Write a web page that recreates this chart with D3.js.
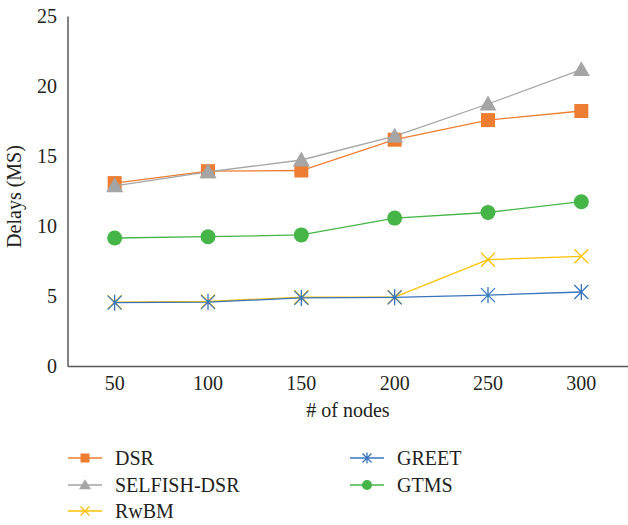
<!DOCTYPE html>
<html>
<head>
<meta charset="utf-8">
<script src="https://cdn.jsdelivr.net/npm/d3@7"></script>
<style>
  body { margin: 0; background: #fff; }
  svg text { font-family: "Liberation Serif", "DejaVu Serif", serif; fill: #231f20; }
</style>
</head>
<body>
<svg id="chart" width="628" height="525"></svg>
<script>
// x categories
var nodes = ['50', '100', '150', '200', '250', '300'];

// series values
var dsr     = [13.1, 13.95, 14.0, 16.2, 17.6, 18.25];
var selfish = [12.9, 13.9, 14.75, 16.45, 18.75, 21.2];
var rwbm    = [4.6, 4.65, 4.95, 4.95, 7.63, 7.87];
var greet   = [4.56, 4.6, 4.9, 4.94, 5.1, 5.32];
var gtms    = [9.18, 9.27, 9.4, 10.6, 11.0, 11.77];

var yTicks = [0, 5, 10, 15, 20, 25];

var series = [
    { name: 'DSR',         values: dsr,     color: '#ED7D31', marker: 'square' },
    { name: 'SELFISH-DSR', values: selfish, color: '#A5A5A5', marker: 'triangle' },
    { name: 'RwBM',        values: rwbm,    color: '#FFC000', marker: 'x' },
    { name: 'GREET',       values: greet,   color: '#3874BC', marker: 'star' },
    { name: 'GTMS',        values: gtms,    color: '#46B548', marker: 'circle' }
];

var svg = d3.select('#chart');

// plot box
var plotLeft = 68, plotRight = 628, plotTop = 16.5, plotBottom = 366.5;
var fontSize = 20;

var x = d3.scaleBand().domain(nodes).range([plotLeft, plotRight]);
var y = d3.scaleLinear().domain([0, 25]).range([plotBottom, plotTop]);

function xPos(i) { return x(nodes[i]) + x.bandwidth() / 2; }

// axes
var xAxis = svg.append('g')
    .attr('transform', 'translate(0,' + plotBottom + ')')
    .call(d3.axisBottom(x).tickSize(0).tickPadding(9));
var yAxis = svg.append('g')
    .attr('transform', 'translate(' + plotLeft + ',0)')
    .call(d3.axisLeft(y).tickValues(yTicks).tickSize(0).tickPadding(11));

[xAxis, yAxis].forEach(function (g) {
    g.select('.domain').attr('stroke', '#58595b').attr('stroke-width', 1.5);
    g.selectAll('text').attr('font-size', fontSize)
        .attr('font-family', '"Liberation Serif", serif').attr('fill', '#231f20');
});
yAxis.select('.domain').attr('d', 'M0,' + plotTop + 'V' + plotBottom);
xAxis.select('.domain').attr('d', 'M' + plotLeft + ',0H' + plotRight);

// axis titles
svg.append('text')
    .attr('x', 348).attr('y', 417)
    .attr('text-anchor', 'middle').attr('font-size', fontSize)
    .text('# of nodes');
svg.append('text')
    .attr('transform', 'translate(21,' + ((plotTop + plotBottom) / 2 + 5) + ') rotate(-90)')
    .attr('text-anchor', 'middle').attr('font-size', fontSize)
    .text('Delays (MS)');

function drawMarker(g, type, cx, cy, color, s) {
    if (type === 'square') {
        g.append('rect').attr('x', cx - s / 2).attr('y', cy - s / 2)
            .attr('width', s).attr('height', s).attr('fill', color);
    } else if (type === 'triangle') {
        var h = s * 0.95;
        g.append('path')
            .attr('d', 'M' + cx + ',' + (cy - h * 0.6) + 'L' + (cx + s / 2 + 1) + ',' + (cy + h * 0.45) +
                  'L' + (cx - s / 2 - 1) + ',' + (cy + h * 0.45) + 'Z')
            .attr('fill', color);
    } else if (type === 'circle') {
        g.append('circle').attr('cx', cx).attr('cy', cy).attr('r', s / 2 + 0.5).attr('fill', color);
    } else if (type === 'x') {
        var r = s / 2;
        g.append('path')
            .attr('d', 'M' + (cx - r) + ',' + (cy - r) + 'L' + (cx + r) + ',' + (cy + r) +
                  'M' + (cx - r) + ',' + (cy + r) + 'L' + (cx + r) + ',' + (cy - r))
            .attr('stroke', color).attr('stroke-width', 1.3).attr('fill', 'none');
    } else if (type === 'star') {
        var r2 = s / 2;
        g.append('path')
            .attr('d', 'M' + (cx - r2) + ',' + (cy - r2) + 'L' + (cx + r2) + ',' + (cy + r2) +
                  'M' + (cx - r2) + ',' + (cy + r2) + 'L' + (cx + r2) + ',' + (cy - r2) +
                  'M' + cx + ',' + (cy - r2 - 1) + 'L' + cx + ',' + (cy + r2 + 1))
            .attr('stroke', color).attr('stroke-width', 1.3).attr('fill', 'none');
    }
}

var line = d3.line()
    .x(function (d, i) { return xPos(i); })
    .y(function (d) { return y(d); });

series.forEach(function (s) {
    var g = svg.append('g');
    g.append('path')
        .attr('d', line(s.values))
        .attr('fill', 'none')
        .attr('stroke', s.color)
        .attr('stroke-width', 1.3);
    s.values.forEach(function (v, i) {
        drawMarker(g, s.marker, xPos(i), y(v), s.color, s.marker === 'triangle' ? 15 : 14);
    });
});

// legend
var legendPos = [
    [68, 458], [68, 485], [68, 511],
    [350, 458], [350, 485]
];
series.forEach(function (s, i) {
    var lx = legendPos[i][0], ly = legendPos[i][1];
    var g = svg.append('g');
    g.append('line')
        .attr('x1', lx).attr('x2', lx + 34)
        .attr('y1', ly).attr('y2', ly)
        .attr('stroke', s.color).attr('stroke-width', 1.5);
    drawMarker(g, s.marker, lx + 17, ly, s.color, s.marker === 'triangle' ? 10 : 9);
    g.append('text')
        .attr('x', lx + 47).attr('y', ly + 7)
        .attr('font-size', fontSize)
        .text(s.name);
});
</script>
</body>
</html>
